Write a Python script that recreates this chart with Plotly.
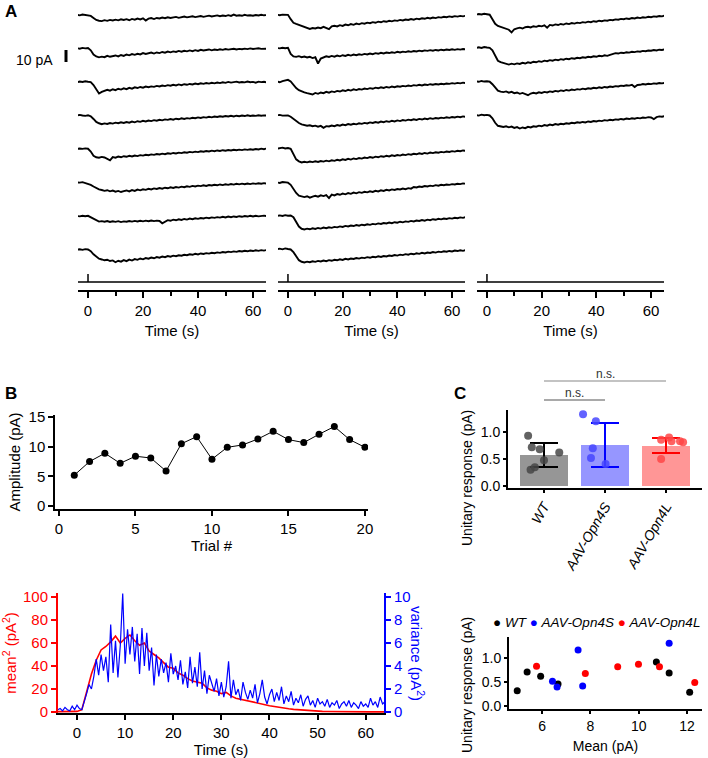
import plotly.graph_objects as go

W, H = 708, 758
def fx(px): return px / W
def fy(py): return 1 - py / H

FONT = "Arial, Liberation Sans, sans-serif"

# ---------------- DATA ----------------
trace_time = list(range(-4, 66))  # s, sampling grid of the current traces
stim_time = 0

# Panel A, column 1 (trials 1-8), current relative to baseline (pA)
col1_traces = [
    [0.2, -0.3, 0.4, 0, -0.2, -0.8, -2.5, -4.2, -4.8, -5.1,
     -4.3, -4.9, -4.1, -4.6, -3.9, -4.5, -3.6, -4.2, -3.5, -4.4,
     -3.3, -3.9, -3.0, -3.7, -2.8, -4.6, -3.1, -2.6, -3.4, -2.5,
     -2.9, -2.2, -2.7, -1.9, -2.5, -2.1, -1.6, -2.4, -1.8, -1.3,
     -2.0, -1.5, -1.1, -1.8, -1.2, -0.9, -1.6, -1.0, -0.6, -1.3,
     -0.8, -0.4, -1.1, -0.5, -0.9, -0.2, -0.8, 0.3, -0.6, -0.3,
     -0.7, 0.1, -0.5, -0.2, -0.6, 0.0, -0.4, 0.2, -0.3, -0.1],
    [0.3, -0.2, 0.5, 0.1, 0.4, -1.5, -5.0, -6.6, -7.4, -6.8,
     -7.2, -6.1, -6.9, -6.3, -5.8, -6.6, -5.4, -6.2, -5.0, -5.7,
     -4.6, -5.3, -4.4, -4.9, -3.8, -4.5, -4.0, -3.4, -4.2, -3.3,
     -3.8, -2.9, -3.5, -2.6, -3.2, -2.4, -2.9, -2.0, -2.7, -1.9,
     -2.4, -1.6, -2.2, -1.4, -2.0, -1.1, -1.7, -1.2, -0.8, -1.5,
     -0.9, -1.3, -0.6, -1.1, -0.4, -0.9, -0.5, -0.2, -0.8, -0.3,
     -0.6, -0.1, -0.5, 0.1, -0.4, -0.2, 0.2, -0.3, 0.0, -0.2],
    [-0.2, 0.4, 0.1, 0.6, 0.2, 0.0, -2.5, -5.8, -9.6, -8.2,
     -7.4, -6.5, -7.2, -6.0, -6.8, -5.6, -6.3, -5.2, -5.9, -4.8,
     -5.5, -4.4, -5.0, -4.1, -4.7, -3.8, -4.3, -3.6, -4.0, -3.2,
     -3.7, -2.9, -3.4, -2.6, -3.1, -2.3, -2.8, -2.0, -2.6, -1.8,
     -2.3, -1.6, -2.0, -1.3, -1.8, -1.0, -1.5, -0.8, -1.3, -0.6,
     -1.1, -0.4, -0.9, -0.2, -0.7, 0.1, -0.5, -0.1, 0.3, -0.4,
     0.0, -0.3, 0.4, -0.2, 0.1, -0.5, 0.3, -0.1, 0.2, -0.3],
    [0.2, 0.6, 0.1, -0.2, 0.3, -0.6, -2.8, -5.3, -6.4, -7.2,
     -6.5, -7.0, -6.2, -6.7, -5.9, -6.4, -5.6, -6.1, -5.4, -5.9,
     -5.0, -5.6, -4.7, -5.2, -4.4, -4.9, -4.1, -4.6, -3.8, -4.3,
     -3.5, -4.0, -3.2, -3.6, -2.9, -3.4, -2.6, -3.1, -2.3, -2.8,
     -2.1, -2.5, -1.8, -2.2, -1.5, -2.0, -1.3, -1.7, -1.0, -1.5,
     -0.8, -1.2, -0.6, -1.0, -0.4, -0.8, -0.2, -0.7, -0.1, -0.5,
     0.0, -0.4, 0.2, -0.3, 0.1, -0.2, 0.3, -0.1, 0.2, 0.0],
    [0.1, 0.5, 0.2, 0.6, 0.3, -2.0, -5.5, -6.8, -7.2, -6.5,
     -7.0, -8.3, -9.4, -6.6, -7.1, -6.2, -6.8, -5.9, -6.4, -5.6,
     -6.1, -5.3, -5.8, -5.0, -5.4, -4.7, -5.1, -4.4, -4.8, -4.1,
     -4.5, -3.8, -4.2, -3.5, -3.9, -3.2, -3.6, -2.9, -3.3, -2.6,
     -3.0, -2.3, -2.7, -2.1, -2.5, -1.8, -2.2, -1.6, -2.0, -1.3,
     -1.7, -1.1, -1.5, -0.9, -1.3, -0.7, -1.1, -0.5, -0.9, -0.4,
     -0.8, -0.2, -0.6, -0.1, -0.5, 0.1, -0.3, 0.4, -0.1, 0.6],
    [0.3, 0.0, 0.4, -0.3, -0.6, -1.8, -3.2, -4.5, -5.6, -6.1,
     -6.8, -6.3, -7.2, -6.6, -7.5, -6.9, -7.8, -7.0, -6.5, -7.3,
     -6.2, -6.9, -5.8, -6.4, -5.5, -6.0, -5.1, -5.7, -4.8, -5.3,
     -4.5, -5.0, -4.2, -4.7, -3.9, -4.4, -3.6, -4.1, -3.3, -3.8,
     -3.0, -3.5, -2.7, -3.2, -2.5, -2.9, -2.2, -2.7, -2.0, -2.4,
     -1.8, -2.2, -1.5, -2.0, -1.3, -1.8, -1.1, -1.6, -0.9, -1.4,
     -0.8, -1.3, -0.7, -1.2, -0.6, -1.0, -0.5, -0.9, -0.4, -0.8],
    [0.2, -0.1, 0.4, 0.0, 0.3, -0.9, -2.6, -3.9, -4.5, -4.1,
     -4.6, -4.0, -4.8, -4.2, -4.7, -4.1, -4.9, -4.3, -4.6, -4.0,
     -4.5, -3.9, -4.4, -3.8, -4.3, -3.7, -4.2, -3.6, -4.1, -3.7,
     -4.0, -5.9, -4.6, -3.3, -3.8, -2.9, -3.4, -2.6, -3.1, -2.3,
     -2.8, -2.0, -2.5, -1.7, -2.2, -1.5, -1.9, -1.2, -1.7, -1.0,
     -1.4, -0.8, -1.2, -0.5, -1.0, -0.3, -0.8, -0.2, -0.6, 0.0,
     -0.5, 0.1, -0.3, 0.3, -0.2, 0.4, -0.1, 0.2, 0.5, 0.1],
    [0.1, 0.4, -0.1, 0.5, 0.2, -1.2, -3.8, -6.0, -7.5, -8.1,
     -8.8, -8.3, -9.4, -8.9, -10.4, -9.2, -9.9, -8.6, -9.5, -8.2,
     -9.0, -7.8, -8.4, -7.3, -8.0, -6.9, -7.5, -6.5, -7.1, -6.1,
     -6.6, -5.7, -6.2, -5.3, -5.8, -4.9, -5.4, -4.6, -5.0, -4.2,
     -4.6, -3.8, -4.2, -3.4, -3.9, -3.1, -3.5, -2.8, -3.2, -2.5,
     -2.9, -2.2, -2.6, -1.9, -2.3, -1.6, -2.0, -1.4, -1.8, -1.1,
     -1.5, -0.9, -1.3, -0.7, -1.1, -0.5, -0.9, -0.3, -0.7, -0.2],
]

# Panel A, column 2 (trials 9-16)
col2_traces = [
    [0.2, -0.2, 0.3, 0.0, 0.1, -3.5, -6.5, -7.4, -8.2, -9.0,
     -9.8, -10.6, -11.6, -10.9, -11.3, -10.5, -11.0, -9.9, -10.6, -11.8,
     -9.5, -9.0, -9.6, -8.5, -9.1, -8.0, -8.6, -7.6, -8.2, -7.2,
     -7.8, -6.8, -7.3, -6.4, -6.9, -6.0, -6.5, -5.6, -6.1, -5.2,
     -5.7, -4.9, -5.3, -4.5, -4.9, -4.1, -4.6, -3.8, -4.2, -3.4,
     -3.9, -3.1, -3.5, -2.8, -3.2, -2.4, -2.9, -2.1, -2.6, -1.8,
     -2.2, -1.5, -1.9, -1.2, -1.7, -1.0, -1.4, -0.8, -1.2, -0.6],
    [0.4, 0.1, 0.6, 0.2, 0.5, -4.5, -6.6, -7.0, -6.4, -7.2,
     -6.7, -7.5, -6.9, -8.0, -7.3, -12.5, -8.4, -7.1, -6.5, -7.0,
     -6.2, -6.8, -5.9, -6.5, -5.6, -6.2, -5.3, -5.9, -5.0, -5.6,
     -4.8, -5.3, -4.5, -5.0, -4.2, -4.7, -3.9, -4.4, -3.6, -4.1,
     -3.4, -3.8, -3.1, -3.6, -2.8, -3.3, -2.6, -3.0, -2.3, -2.8,
     -2.1, -2.5, -1.8, -2.3, -1.6, -2.0, -1.4, -1.8, -1.2, -1.6,
     -1.0, -1.4, -0.8, -1.2, -0.7, -1.1, -0.5, -0.9, -0.4, -0.8],
    [0.5, -0.2, 0.8, 1.0, 1.8, 0.5, -2.5, -5.0, -6.8, -7.9,
     -8.6, -9.3, -9.6, -10.4, -9.1, -9.8, -8.7, -9.3, -8.2, -8.9,
     -7.8, -8.4, -7.4, -7.9, -6.9, -7.5, -6.5, -7.1, -6.1, -6.7,
     -5.8, -6.3, -5.4, -5.9, -5.1, -5.6, -4.7, -5.2, -4.4, -4.9,
     -4.1, -4.6, -3.8, -4.3, -3.5, -3.9, -3.2, -3.6, -2.9, -3.4,
     -2.6, -3.0, -2.3, -2.8, -2.1, -2.5, -1.8, -2.2, -1.6, -2.0,
     -1.4, -1.8, -1.2, -1.5, -0.9, -1.3, -0.7, -1.1, -0.5, -0.9],
    [0.3, 0.6, 0.0, 0.4, 0.2, -1.0, -2.8, -4.6, -6.2, -7.3,
     -7.9, -8.5, -8.1, -8.9, -8.4, -9.3, -8.6, -10.2, -8.8, -9.1,
     -8.3, -8.8, -7.9, -8.4, -7.5, -8.0, -7.1, -7.6, -6.8, -7.3,
     -6.4, -6.9, -6.1, -6.6, -5.7, -6.2, -5.4, -5.9, -5.0, -5.5,
     -4.7, -5.2, -4.4, -4.9, -4.0, -4.6, -3.7, -4.2, -3.4, -3.9,
     -3.1, -3.6, -2.8, -3.3, -2.5, -3.0, -2.2, -2.7, -2.0, -2.4,
     -1.7, -2.1, -1.4, -1.9, -1.2, -1.6, -0.9, -1.4, -0.7, -1.1],
    [0.4, 0.8, 1.2, 0.5, 0.9, 0.2, -4.0, -8.5, -10.2, -11.1,
     -10.5, -11.0, -10.3, -10.8, -10.1, -10.7, -9.9, -10.4, -9.6, -10.2,
     -9.3, -9.8, -8.9, -9.4, -8.5, -9.0, -8.1, -8.7, -7.8, -8.3,
     -7.4, -7.9, -7.0, -7.5, -6.6, -7.2, -6.3, -6.8, -5.9, -6.4,
     -5.6, -6.1, -5.2, -5.7, -4.9, -5.4, -4.5, -5.0, -4.2, -4.7,
     -3.9, -4.3, -3.5, -4.0, -3.2, -3.7, -2.9, -3.3, -2.6, -3.0,
     -2.3, -2.7, -2.0, -2.4, -1.7, -2.1, -1.4, -1.8, -1.1, -1.5],
    [0.2, -0.3, 0.5, 0.1, 0.0, -1.8, -5.2, -8.6, -10.8, -11.5,
     -12.0, -11.3, -12.5, -11.6, -11.0, -11.7, -10.6, -11.2, -10.3, -12.8,
     -9.9, -10.6, -9.5, -10.1, -9.1, -9.7, -8.7, -9.3, -8.3, -8.9,
     -7.9, -8.5, -7.6, -8.1, -7.2, -7.7, -6.8, -7.3, -6.4, -6.9,
     -6.0, -6.5, -5.6, -6.1, -5.3, -5.7, -4.9, -5.4, -4.6, -5.0,
     -3.6, -4.0, -3.2, -3.6, -2.8, -3.2, -2.5, -2.9, -2.1, -2.5,
     -1.8, -2.1, -1.5, -1.8, -1.2, -1.5, -0.9, -1.2, -0.6, -0.9],
    [0.3, 0.7, 0.2, 0.9, 0.4, 0.6, -0.8, -4.5, -8.6, -10.5,
     -11.0, -10.4, -10.9, -10.1, -10.6, -9.8, -10.3, -9.5, -10.0, -9.2,
     -9.7, -8.9, -9.3, -8.5, -9.0, -8.1, -8.6, -7.8, -8.2, -7.4,
     -7.9, -7.1, -7.5, -6.7, -7.2, -6.4, -6.8, -6.0, -6.5, -5.7,
     -6.1, -5.3, -5.8, -5.0, -5.4, -4.6, -5.1, -4.3, -4.7, -3.9,
     -4.4, -3.6, -4.0, -3.2, -3.7, -2.9, -3.3, -2.5, -3.0, -2.2,
     -2.6, -1.9, -2.3, -1.6, -2.0, -1.3, -1.7, -1.0, -1.4, -0.8],
    [0.5, 0.9, 0.3, 1.1, 0.6, 0.2, -2.0, -5.8, -8.7, -10.0,
     -10.6, -9.9, -10.4, -9.6, -10.1, -9.3, -9.8, -9.0, -9.5, -8.7,
     -9.2, -8.4, -8.8, -8.0, -8.5, -7.6, -8.1, -7.3, -7.7, -6.9,
     -7.4, -6.6, -7.0, -6.2, -6.7, -5.9, -6.3, -5.5, -6.0, -5.2,
     -5.6, -4.8, -5.2, -4.4, -4.9, -4.1, -4.5, -3.7, -4.1, -3.3,
     -3.8, -3.0, -3.4, -2.6, -3.1, -2.3, -2.7, -1.9, -2.4, -1.6,
     -2.0, -1.3, -1.7, -1.0, -1.4, -0.7, -1.1, -0.5, -0.9, -0.3],
]

# Panel A, column 3 (trials 17-20)
col3_traces = [
    [0.3, 0.8, 0.4, 1.0, 0.6, 0.2, -3.5, -7.4, -9.2, -10.0,
     -10.8, -11.5, -12.3, -14.5, -11.9, -11.2, -10.6, -11.3, -10.2, -9.8,
     -10.4, -9.4, -9.9, -9.0, -9.5, -8.6, -10.6, -8.3, -8.8, -7.9,
     -8.4, -7.5, -8.0, -7.1, -7.6, -6.7, -7.2, -6.4, -6.8, -6.0,
     -6.4, -5.6, -6.0, -5.2, -5.6, -4.8, -5.2, -4.5, -4.8, -4.1,
     -4.4, -3.7, -4.0, -3.3, -3.6, -2.9, -3.3, -2.6, -2.9, -2.2,
     -2.6, -1.9, -2.2, -1.5, -1.9, -1.2, -1.5, -0.9, -1.2, -0.5],
    [0.4, 1.0, 0.5, 1.2, 0.8, 0.5, -1.5, -6.0, -10.2, -11.4,
     -12.0, -12.8, -13.4, -12.6, -13.2, -12.4, -12.9, -11.9, -12.5, -11.5,
     -12.0, -11.0, -11.5, -10.6, -11.1, -10.1, -10.6, -9.7, -10.2, -9.3,
     -9.8, -8.9, -9.3, -8.5, -8.9, -8.1, -8.5, -7.7, -8.1, -7.3,
     -7.7, -6.9, -7.3, -6.5, -6.9, -6.1, -6.5, -5.7, -6.1, -5.3,
     -4.6, -3.9, -4.2, -3.5, -3.8, -3.1, -3.4, -2.7, -3.0, -2.4,
     -2.7, -2.0, -2.3, -1.7, -1.9, -1.3, -1.6, -1.0, -1.2, -0.7],
    [0.6, 0.2, 0.9, 0.4, 0.7, 0.3, -1.8, -4.6, -7.2, -8.0,
     -8.4, -7.8, -8.9, -8.2, -9.3, -8.7, -9.8, -9.1, -10.2, -11.0,
     -9.6, -9.0, -9.5, -8.6, -9.1, -8.2, -8.7, -7.8, -8.3, -7.4,
     -7.9, -7.0, -7.5, -6.6, -7.1, -6.3, -6.7, -5.9, -6.3, -5.5,
     -6.0, -5.2, -5.6, -4.8, -5.2, -4.4, -4.9, -4.1, -4.5, -3.7,
     -4.1, -3.4, -3.7, -3.0, -3.3, -2.7, -3.0, -2.3, -4.2, -2.5,
     -2.3, -1.7, -2.0, -1.4, -1.7, -1.1, -1.4, -0.8, -1.1, -0.6],
    [0.5, 0.0, 0.8, 0.3, 0.6, 0.1, -2.2, -6.0, -8.5, -9.0,
     -9.5, -8.9, -9.8, -9.2, -10.3, -9.6, -10.8, -9.9, -10.5, -9.4,
     -9.9, -8.9, -9.3, -8.4, -8.9, -7.9, -8.4, -7.5, -8.0, -7.1,
     -7.6, -6.8, -7.2, -6.4, -6.8, -6.0, -6.4, -5.6, -6.0, -5.3,
     -5.7, -4.9, -5.3, -4.5, -4.9, -4.2, -4.6, -3.8, -4.2, -3.5,
     -3.9, -3.2, -3.5, -2.8, -3.2, -2.5, -2.9, -2.2, -2.6, -1.9,
     -2.3, -1.6, -1.9, -1.3, -1.6, -3.0, -1.3, -0.7, -1.0, -0.4],
]

# Panel B (top): amplitude per trial
trial_numbers = list(range(1, 21))
trial_amplitudes = [5.2, 7.5, 8.9, 7.2, 8.4, 8.1, 5.9, 10.5, 11.7, 7.9,
                    9.9, 10.3, 11.3, 12.6, 11.2, 10.7, 12.1, 13.4, 11.2, 9.9]

# Panel B (bottom): mean^2 and variance
mean_sq_time = list(range(-4, 65))
mean_sq = [0.3, 0.2, 0.4, 0.3, 0.5,
           2.0, 18, 33, 45, 54,
           57, 61, 66, 60, 64,
           67, 62, 58, 60, 53,
           50, 47, 43, 39, 38,
           34, 32, 29, 27, 26,
           25, 21, 19, 18, 16,
           17, 14, 12, 11, 10,
           9, 8, 7.5, 6.5, 5.5,
           4.8, 4.0, 3.4, 2.8, 2.3,
           1.9, 1.5, 1.1, 0.9, 0.7,
           0.5, 0.4, 0.3, 0.3, 0.2,
           0.2, 0.2, 0.1, 0.1, 0.1,
           0.1, 0.1, 0.1, 0.1]
var_time = [i * 0.5 for i in range(-8, 129)]
variance = [0.2, 0.3, 0.1, 0.4, 0.2, 0.1, 0.5, 0.2, 0.6, 0.3,
            0.2, 0.8, 1.6, 2.4, 2.0, 3.1, 4.6, 3.2, 5.0, 3.6,
            4.8, 2.6, 7.6, 3.4, 6.2, 3.0, 5.8, 10.3, 4.2, 7.2,
            5.0, 7.4, 4.4, 6.8, 3.3, 7.3, 4.0, 6.9, 3.6, 5.6,
            2.3, 5.0, 3.1, 4.6, 3.4, 4.3, 2.6, 5.1, 3.3, 4.0,
            2.8, 4.5, 2.4, 3.5, 2.1, 4.8, 2.5, 3.9, 2.2, 5.2,
            2.0, 3.6, 1.6, 3.2, 2.4, 1.8, 2.9, 1.4, 2.6, 1.3,
            2.2, 4.4, 1.2, 2.8, 1.5, 2.0, 1.0, 2.6, 1.7, 1.1,
            1.9, 1.2, 2.4, 0.8, 1.6, 2.8, 1.3, 0.7, 1.5, 2.0,
            0.9, 1.7, 1.0, 2.2, 0.7, 1.4, 0.9, 1.8, 0.6, 1.2,
            0.8, 1.5, 0.5, 1.1, 1.4, 0.6, 1.0, 0.4, 1.2, 0.7,
            0.9, 0.5, 1.1, 0.4, 0.8, 0.6, 1.0, 0.3, 0.7, 0.9,
            0.5, 1.0, 0.4, 0.8, 0.6, 0.3, 0.9, 0.5, 0.7, 0.4,
            1.2, 0.6, 0.9, 0.4, 1.3, 0.7, 0.9]

# Panel C (top): bars
groups = ["WT", "AAV-Opn4S", "AAV-Opn4L"]
bar_means = [0.58, 0.76, 0.75]
bar_sd = [0.225, 0.41, 0.145]
wt_dots = [0.93, 0.72, 0.68, 0.62, 0.48, 0.35, 0.30]
wt_jitter = [-0.26, -0.20, -0.07, 0.25, 0.0, -0.15, -0.22]
s_dots = [1.33, 1.20, 0.70, 0.52, 0.41]
s_jitter = [-0.36, -0.15, -0.20, -0.23, 0.01]
l_dots = [0.50, 0.86, 0.83, 0.83, 0.90, 0.81]
l_jitter = [-0.08, -0.08, 0.09, 0.23, 0.05, 0.28]

# Panel C (bottom): unitary response vs mean
wt_mean = [4.97, 5.38, 5.94, 6.66, 10.73, 11.26, 12.11]
wt_unit = [0.32, 0.71, 0.62, 0.46, 0.92, 0.69, 0.29]
s_mean = [6.43, 6.62, 7.49, 7.68, 11.26]
s_unit = [0.52, 0.40, 1.17, 0.42, 1.31]
l_mean = [5.77, 7.79, 9.13, 9.99, 10.86, 12.32]
l_unit = [0.83, 0.68, 0.82, 0.87, 0.82, 0.49]

# ---------------- FIGURE ----------------
fig = go.Figure()

TOP_BASE = 229.2     # pA position of first row baseline
ROW_STEP = 27.95     # pA between rows
STIM_Y = 6.67
STIM_TICK = 6.67

for ci, col in enumerate([col1_traces, col2_traces, col3_traces]):
    ax = "" if ci == 0 else str(ci + 1)
    for r, vals in enumerate(col):
        off = TOP_BASE - r * ROW_STEP
        fig.add_trace(go.Scatter(x=trace_time, y=[v + off for v in vals], mode="lines",
                                 line=dict(color="black", width=1.9),
                                 xaxis="x" + ax, yaxis="y" + ax, showlegend=False, hoverinfo="skip"))
    fig.add_trace(go.Scatter(x=[trace_time[0], stim_time, stim_time, stim_time, trace_time[-1]],
                             y=[STIM_Y, STIM_Y, STIM_Y + STIM_TICK, STIM_Y, STIM_Y], mode="lines",
                             line=dict(color="black", width=1.5),
                             xaxis="x" + ax, yaxis="y" + ax, showlegend=False, hoverinfo="skip"))

# B top
fig.add_trace(go.Scatter(x=trial_numbers, y=trial_amplitudes, mode="lines+markers",
                         line=dict(color="black", width=1), marker=dict(color="black", size=7),
                         xaxis="x4", yaxis="y4", showlegend=False))
# B bottom
fig.add_trace(go.Scatter(x=var_time, y=variance, mode="lines", line=dict(color="blue", width=1.2),
                         xaxis="x5", yaxis="y6", showlegend=False))
fig.add_trace(go.Scatter(x=mean_sq_time, y=mean_sq, mode="lines", line=dict(color="red", width=1.6),
                         xaxis="x5", yaxis="y5", showlegend=False))

# C top bars
bar_colors = ["rgb(150,150,150)", "rgb(150,150,255)", "rgb(255,150,150)"]
err_colors = ["black", "blue", "red"]
dot_colors = ["rgba(70,70,70,0.85)", "rgba(70,70,255,0.85)", "rgba(255,70,70,0.85)"]
for i in range(3):
    fig.add_trace(go.Bar(x=[i], y=[bar_means[i]], width=0.79, marker=dict(color=bar_colors[i], line=dict(width=0)),
                         error_y=dict(type="data", array=[bar_sd[i]], color=err_colors[i], thickness=2, width=14),
                         xaxis="x7", yaxis="y7", showlegend=False))
for i, (dots, jit) in enumerate([(wt_dots, wt_jitter), (s_dots, s_jitter), (l_dots, l_jitter)]):
    fig.add_trace(go.Scatter(x=[i + j for j in jit], y=dots, mode="markers",
                             marker=dict(color=dot_colors[i], size=8),
                             xaxis="x7", yaxis="y7", showlegend=False))
# C bottom scatter
for xs, ys, c in [(wt_mean, wt_unit, "black"), (s_mean, s_unit, "blue"), (l_mean, l_unit, "red")]:
    fig.add_trace(go.Scatter(x=xs, y=ys, mode="markers", marker=dict(color=c, size=7),
                             xaxis="x8", yaxis="y8", showlegend=False))

tf = dict(family=FONT, size=15, color="black")
tf14 = dict(family=FONT, size=14, color="black")

def xa_common(**kw):
    d = dict(showline=True, linecolor="black", linewidth=2, ticks="outside", ticklen=6, tickwidth=2,
             tickcolor="black", showgrid=False, zeroline=False, tickfont=tf, automargin=False)
    d.update(kw)
    return d

panelA_x = dict(range=[-3.64, 64.73], tickvals=[0, 20, 40, 60],
                minor=dict(tickvals=[10, 30, 50], ticks="outside", ticklen=4, tickwidth=2, tickcolor="black"),
                title=dict(text="Time (s)", font=tf, standoff=7))
ydomA = [fy(290), fy(2)]
layout = dict(
    width=W, height=H, margin=dict(l=0, r=0, t=0, b=0, autoexpand=False),
    paper_bgcolor="white", plot_bgcolor="white", font=dict(family=FONT, color="black"),
    template="none", showlegend=False, bargap=0,
    xaxis=xa_common(domain=[fx(78), fx(266)], anchor="y", **panelA_x),
    xaxis2=xa_common(domain=[fx(278), fx(465)], anchor="y2", **panelA_x),
    xaxis3=xa_common(domain=[fx(477), fx(664)], anchor="y3", **panelA_x),
    yaxis=dict(domain=ydomA, range=[0, 240], visible=False, anchor="x", automargin=False),
    yaxis2=dict(domain=ydomA, range=[0, 240], visible=False, anchor="x2", automargin=False),
    yaxis3=dict(domain=ydomA, range=[0, 240], visible=False, anchor="x3", automargin=False),
    xaxis4=xa_common(domain=[fx(55), fx(368)], anchor="y4", range=[-0.26, 20.2], tickvals=[0, 5, 10, 15, 20],
                     linewidth=1.5, tickwidth=1.5, ticklen=5, title=dict(text="Trial #", font=tf, standoff=4)),
    yaxis4=xa_common(domain=[fy(509), fy(415)], anchor="x4", range=[-0.5, 15.35], tickvals=[0, 5, 10, 15],
                     linewidth=1.5, tickwidth=1.5, ticklen=5, title=dict(text="Amplitude (pA)", font=tf, standoff=4)),
    xaxis5=xa_common(domain=[fx(58), fx(384)], anchor="y5", range=[-3.95, 63.8],
                     tickvals=[0, 10, 20, 30, 40, 50, 60], ticklen=5,
                     title=dict(text="Time (s)", font=tf, standoff=3)),
    yaxis5=xa_common(domain=[fy(713), fy(593)], anchor="x5", range=[-0.87, 103.5],
                     tickvals=[0, 20, 40, 60, 80, 100], linecolor="red", tickcolor="red", ticklen=5,
                     tickfont=dict(family=FONT, size=15, color="red"),
                     title=dict(text="mean<sup>2</sup> (pA<sup>2</sup>)", font=dict(family=FONT, size=15, color="red"), standoff=6)),
    yaxis6=xa_common(domain=[fy(713), fy(593)], anchor="x5", overlaying="y5", side="right",
                     range=[-0.087, 10.35], tickvals=[0, 2, 4, 6, 8, 10], linecolor="blue", tickcolor="blue",
                     ticklen=5, tickfont=dict(family=FONT, size=15, color="blue")),
    xaxis7=xa_common(domain=[fx(508), fx(702)], anchor="y7", range=[-0.59, 2.59], tickvals=[0, 1, 2],
                     ticktext=["<i>" + g + "</i>" for g in groups], tickangle=-60, ticklen=3,
                     linewidth=1.8, tickwidth=1.5, tickfont=tf14),
    yaxis7=xa_common(domain=[fy(488), fy(410)], anchor="x7", range=[-0.037, 1.41], tickvals=[0, 0.5, 1.0],
                     ticktext=["0.0", "0.5", "1.0"], ticklen=3, linewidth=1.8, tickwidth=1.5, tickfont=tf14),
    xaxis8=xa_common(domain=[fx(509), fx(702)], anchor="y8", range=[4.63, 12.62], tickvals=[6, 8, 10, 12],
                     ticklen=3, linewidth=1.8, tickwidth=1.5, tickfont=tf14,
                     title=dict(text="Mean (pA)", font=tf14, standoff=8)),
    yaxis8=xa_common(domain=[fy(709), fy(637)], anchor="x8", range=[-0.06, 1.44], tickvals=[0, 0.5, 1.0],
                     ticktext=["0.0", "0.5", "1.0"], ticklen=3, linewidth=1.8, tickwidth=1.5, tickfont=tf14),
)
fig.update_layout(**layout)

bold = dict(family=FONT, size=17, color="black")
ann = [
    dict(text="<b>A</b>", x=fx(3), y=fy(0), xanchor="left", yanchor="top", font=bold),
    dict(text="<b>B</b>", x=fx(3), y=fy(393), xanchor="left", yanchor="middle", font=bold),
    dict(text="<b>C</b>", x=fx(452), y=fy(393), xanchor="left", yanchor="middle", font=bold),
    dict(text="10 pA", x=fx(34), y=fy(60), xanchor="center", yanchor="middle", font=tf14),
    dict(text="variance (pA<sup>2</sup>)", x=fx(418), y=fy(653), textangle=90,
         xanchor="center", yanchor="middle", font=dict(family=FONT, size=15, color="blue")),
    dict(text="Unitary response (pA)", x=fx(467), y=fy(478), textangle=-90,
         xanchor="center", yanchor="middle", font=tf14),
    dict(text="Unitary response (pA)", x=fx(467), y=fy(685), textangle=-90,
         xanchor="center", yanchor="middle", font=tf14),
    dict(text="<span style='color:black'>●</span> <i>WT</i> <span style='color:blue'>●</span> <i>AAV-Opn4S</i> "
              "<span style='color:red'>●</span> <i>AAV-Opn4L</i>",
         x=fx(491), y=fy(622), xanchor="left", yanchor="middle", font=dict(family=FONT, size=13.5, color="black")),
    dict(text="n.s.", x=0.5, xref="x7", y=fy(393), xanchor="center", yanchor="middle",
         font=dict(family=FONT, size=12, color="#333")),
    dict(text="n.s.", x=1.0, xref="x7", y=fy(374), xanchor="center", yanchor="middle",
         font=dict(family=FONT, size=12, color="#333")),
]
for a in ann:
    a.setdefault("xref", "paper")
    a.setdefault("yref", "paper")
    a["showarrow"] = False
fig.update_layout(annotations=ann)

shapes = [
    # scale bar: 10 pA
    dict(type="line", xref="paper", yref="y", x0=fx(66), x1=fx(66), y0=190, y1=200,
         line=dict(color="black", width=3)),
    # significance brackets
    dict(type="line", xref="x7", yref="paper", x0=0, x1=1, y0=fy(400), y1=fy(400),
         line=dict(color="#555", width=1.2)),
    dict(type="line", xref="x7", yref="paper", x0=0, x1=2, y0=fy(381), y1=fy(381),
         line=dict(color="#888", width=1.2)),
]
fig.update_layout(shapes=shapes)

fig.write_html("out.html", config={"displayModeBar": False},
               post_script="document.body.style.margin='0';document.body.style.padding='0';"
                           "document.body.style.overflow='hidden';")
